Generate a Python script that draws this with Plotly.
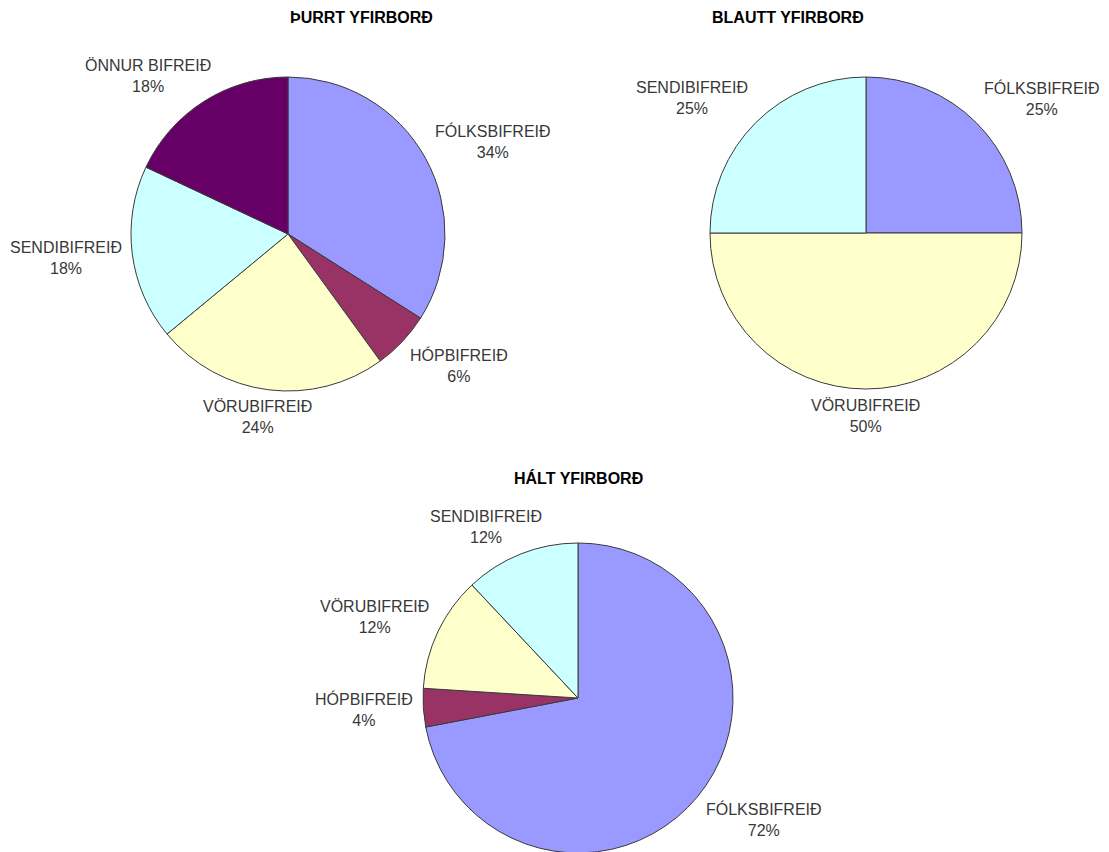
import math
import plotly.graph_objects as go

# ─── Data ─────────────────────────────────────────────────────────────────────
dry_labels = ["FÓLKSBIFREIÐ", "HÓPBIFREIÐ", "VÖRUBIFREIÐ", "SENDIBIFREIÐ", "ÖNNUR BIFREIÐ"]
dry_values = [34, 6, 24, 18, 18]

wet_labels = ["FÓLKSBIFREIÐ", "VÖRUBIFREIÐ", "SENDIBIFREIÐ"]
wet_values = [25, 50, 25]

icy_labels = ["FÓLKSBIFREIÐ", "HÓPBIFREIÐ", "VÖRUBIFREIÐ", "SENDIBIFREIÐ"]
icy_values = [72, 4, 12, 12]

titles = ["ÞURRT YFIRBORÐ", "BLAUTT YFIRBORÐ", "HÁLT YFIRBORÐ"]

# ─── Style ────────────────────────────────────────────────────────────────────
COLORS = {
    "FÓLKSBIFREIÐ": "#9999FF",
    "HÓPBIFREIÐ": "#993366",
    "VÖRUBIFREIÐ": "#FFFFCC",
    "SENDIBIFREIÐ": "#CCFFFF",
    "ÖNNUR BIFREIÐ": "#660066",
}
FONT = "Liberation Sans, Arial, sans-serif"
W, H = 1109, 852
PAGE_OFF = 8          # body margin of the html page
LABEL_SIZE = 16
LABEL_H = 38          # two-line label block height (px)
GAP = 8               # gap between pie edge and label box


def px_to_paper(x, y):
    return (x - PAGE_OFF) / W, 1 - (y - PAGE_OFF) / H


fig = go.Figure()

# (labels, values, centre x, centre y, radius, title y) in screen pixels
pies = [
    (dry_labels, dry_values, 288, 234, 157, 18),
    (wet_labels, wet_values, 866, 233, 156, 18),
    (icy_labels, icy_values, 578, 698, 155, 478),
]

for (labels, values, cx, cy, r, ty), title in zip(pies, titles):
    px, py = px_to_paper(cx, cy)
    fig.add_trace(go.Pie(
        labels=labels, values=values,
        sort=False, direction="clockwise", rotation=0,
        marker=dict(colors=[COLORS[l] for l in labels],
                    line=dict(color="#3a3a3a", width=1)),
        textinfo="none", hoverinfo="label+value",
        domain=dict(x=[px - r / W, px + r / W], y=[py - r / H, py + r / H]),
        showlegend=False,
    ))

    # data labels outside the slices, placed along each slice's mid angle
    total = sum(values)
    cum = 0
    for lab, val in zip(labels, values):
        theta = 2 * math.pi * (cum + val / 2) / total   # clockwise from 12 o'clock
        cum += val
        ux, uy = math.sin(theta), -math.cos(theta)      # screen direction
        sx = max(-1, min(1, ux * 1.414))
        sy = max(-1, min(1, uy * 1.414))
        d = r + GAP
        ax, ay = cx + d * ux, cy + d * uy
        if abs(sx) >= 0.999:
            xanchor = "left" if sx > 0 else "right"
            xshift = 0
        else:
            xanchor = "center"
            xshift = sx * 0.65 * LABEL_SIZE * len(lab) / 2
        lx, ly = px_to_paper(ax, ay)
        fig.add_annotation(
            text=f"{lab}<br>{val}%", x=lx, y=ly, xref="paper", yref="paper",
            xanchor=xanchor, yanchor="middle",
            xshift=xshift, yshift=-sy * LABEL_H / 2,
            showarrow=False, align="center",
            font=dict(family=FONT, size=LABEL_SIZE, color="#383838"),
        )

    tx, typ = px_to_paper(cx, ty)
    fig.add_annotation(text=f"<b>{title}</b>", x=tx, y=typ,
                       xref="paper", yref="paper", showarrow=False,
                       yanchor="middle",
                       font=dict(family=FONT, size=16, color="#000000"))

fig.update_layout(
    width=W, height=H,
    margin=dict(l=0, r=0, t=0, b=0),
    paper_bgcolor="white", plot_bgcolor="white",
)

fig.write_html("out.html")
